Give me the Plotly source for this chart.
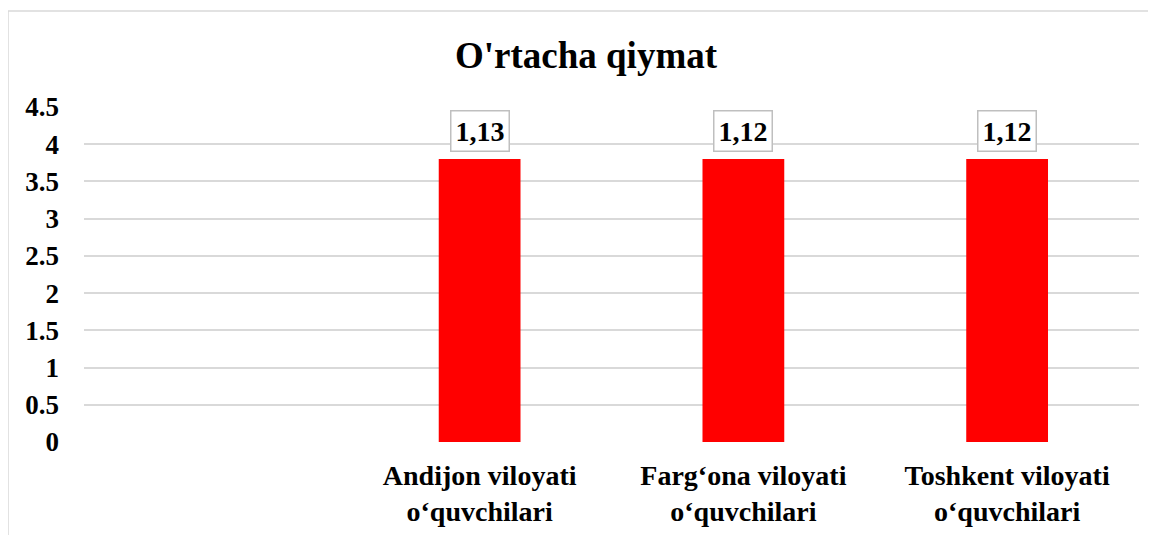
import plotly.graph_objects as go

categories = ["", "Andijon viloyati<br>o‘quvchilari", "Farg‘ona viloyati<br>o‘quvchilari", "Toshkent viloyati<br>o‘quvchilari"]
values = [None, 3.8, 3.8, 3.8]
labels = ["", "1,13", "1,12", "1,12"]
yticks = [0, 0.5, 1, 1.5, 2, 2.5, 3, 3.5, 4, 4.5]

font = "Liberation Serif, Times New Roman, serif"
W, H = 1156, 535
# page has an 8px body margin, so figure coords = screen coords - 8
L, R, T, B = 76, 25, 99, 101
pw, ph = W - L - R, H - T - B

fig = go.Figure()
fig.add_trace(go.Bar(x=list(range(len(categories))), y=values, marker_color="#ff0000",
                     marker_line_width=0, width=0.31))

for i, (v, t) in enumerate(zip(values, labels)):
    if v is None:
        continue
    fig.add_annotation(x=i, y=v, text="<b>" + t + "</b>", showarrow=False, yanchor="bottom",
                       yshift=7, bordercolor="#bfbfbf", borderwidth=1.5, borderpad=4,
                       bgcolor="white", font=dict(family=font, size=28, color="black"))

# outer chart border (left and top only visible)
fig.add_shape(type="line", xref="paper", yref="paper",
              x0=-L / pw, x1=-L / pw, y0=-B / ph, y1=(H - B - 3) / ph,
              line=dict(color="#d9d9d9", width=1.5))
fig.add_shape(type="line", xref="paper", yref="paper",
              x0=-L / pw, x1=(W - L) / pw, y0=(H - B - 3) / ph, y1=(H - B - 3) / ph,
              line=dict(color="#d9d9d9", width=1.5))

fig.update_layout(
    width=W, height=H,
    margin=dict(l=L, r=R, t=T, b=B),
    paper_bgcolor="white", plot_bgcolor="white",
    showlegend=False,
    title=dict(text="<b>O'rtacha qiymat</b>", x=0.5, xanchor="center", y=1 - 47 / H, yanchor="middle",
               font=dict(family=font, size=37, color="black")),
    xaxis=dict(tickmode="array", tickvals=list(range(len(categories))),
               ticktext=["<b>" + c.replace("<br>", "</b><br><b>") + "</b>" if c else "" for c in categories],
               range=[-0.5, 3.5], showgrid=False, zeroline=False, showline=False, ticks="",
               ticklabelstandoff=14,
               tickfont=dict(family=font, size=28, color="black")),
    yaxis=dict(range=[0, 4.5], tickmode="array", tickvals=yticks,
               ticktext=["<b>" + str(v) + "</b>" for v in yticks],
               showgrid=True, gridcolor="#d9d9d9", gridwidth=1.5, zeroline=False, showline=False,
               ticks="", ticklabelstandoff=24,
               tickfont=dict(family=font, size=27, color="black")),
)

fig.write_html("out.html")
